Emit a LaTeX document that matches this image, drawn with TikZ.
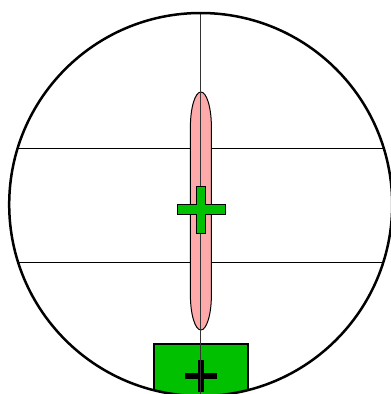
\documentclass[tikz,border=0pt]{standalone}
\definecolor{pinkfill}{RGB}{255,170,170}
\definecolor{greenfill}{RGB}{0,192,0}
\tikzset{
  rim/.style={draw=black, line width=2.5pt},
  chord/.style={draw=black, line width=1pt},
  axis/.style={draw=black!80, line width=1pt},
  capsule/.style={draw=black, fill=pinkfill, line width=1pt},
  greencross/.style={draw=black, fill=greenfill, line width=1pt},
  basebox/.style={draw=black, fill=greenfill, line width=2.2pt},
  blackbar/.style={fill=black, draw=none}
}
\begin{document}
\begin{tikzpicture}[x=1pt,y=-1pt]
\useasboundingbox (0,0) rectangle (391,394);
\coordinate (c) at (200.7,204.5);
\def\R{191.5}
% base box clipped by circle
\begin{scope}
  \clip (c) circle (\R);
  \path[basebox] (154,344) rectangle (248,400);
  \fill[blackbar] (197.5,360) rectangle (203.5,392);
  \fill[blackbar] (184.5,373) rectangle (216.5,379);
\end{scope}
% chords
\coordinate (l1) at (17.73,148);
\coordinate (r1) at (383.67,148);
\coordinate (l2) at (18.04,262);
\coordinate (r2) at (383.36,262);
\draw[chord] (l1) -- (r1);
\draw[chord] (l2) -- (r2);
% capsule
\path[capsule] (190.4,127) arc [start angle=180, end angle=0, x radius=10.5, y radius=-35]
  -- (211.4,295) arc [start angle=0, end angle=-180, x radius=10.5, y radius=-35] -- cycle;
% vertical axis
\coordinate (top) at (200.7,13);
\coordinate (bot) at (200.7,396);
\draw[axis] (top) -- (bot);
% green cross
\path[greencross] (196,186) -- (205.7,186) -- (205.7,204.3) -- (225,204.3) -- (225,214.3)
  -- (205.7,214.3) -- (205.7,233.3) -- (196,233.3) -- (196,214.3) -- (177.3,214.3)
  -- (177.3,204.3) -- (196,204.3) -- cycle;
% circle
\draw[rim] (c) circle (\R);
\end{tikzpicture}
\end{document}
